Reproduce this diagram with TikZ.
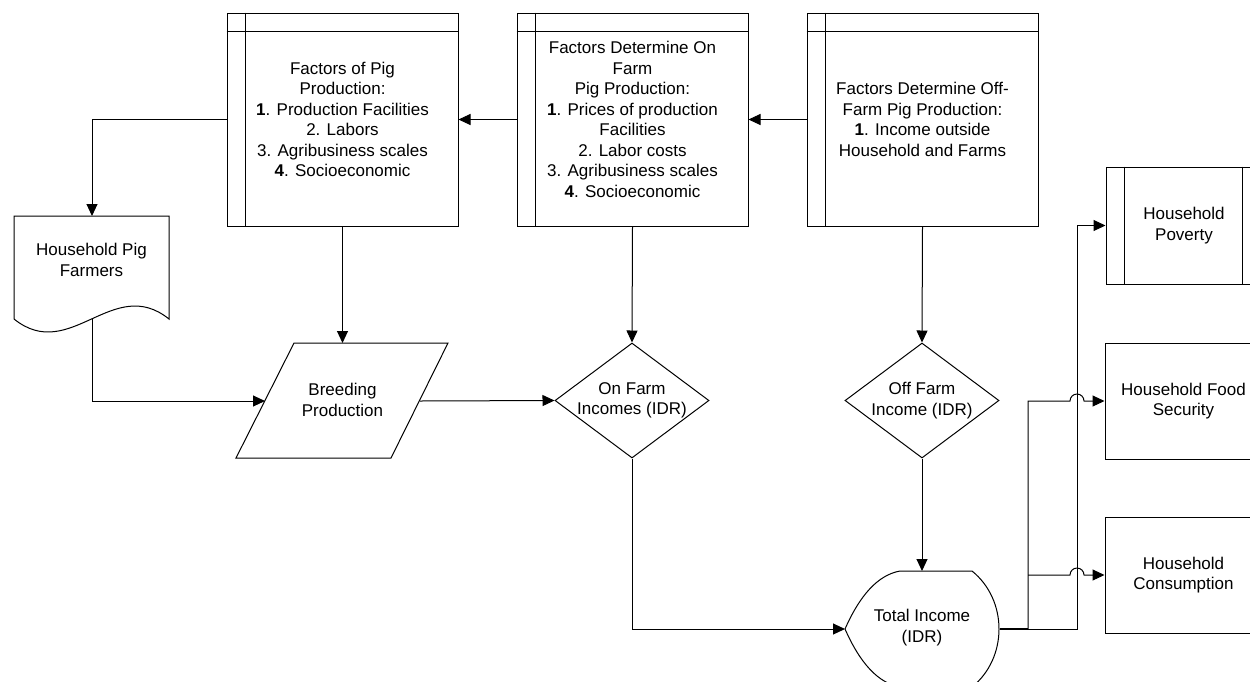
\documentclass[tikz,border=0pt]{standalone}
\usepackage{fontspec}
\setmainfont{Liberation Sans}
\usetikzlibrary{arrows.meta,shapes.geometric}
\begin{document}
\begin{tikzpicture}[x=1pt,y=-1pt,line width=1pt,
  every node/.style={font=\fontsize{17}{20.5}\selectfont,align=center,inner sep=0pt},
  arr/.style={-{Triangle[length=12pt,width=11pt]}},
  fbox/.style={draw,rectangle,minimum width=231pt,minimum height=213pt},
  rbox/.style={draw,rectangle,minimum width=157pt,minimum height=116pt},
  dia/.style={draw,diamond,minimum width=154pt,minimum height=115pt},
  hop/.style={}]
\useasboundingbox (0,0) rectangle (1250,681);
\clip (0,0) rectangle (1250,681);
\fill[white] (0,0) rectangle (1250,681);

% top factor boxes
\node[fbox] (b1) at (342.5,119.5) {Factors of Pig\\Production:\\{\bfseries 1}. Production Facilities\\2. Labors\\3. Agribusiness scales\\{\bfseries 4}. Socioeconomic};
\node[fbox] (b2) at (632.5,119.5) {Factors Determine On\\Farm\\Pig Production:\\{\bfseries 1}. Prices of production\\Facilities\\2. Labor costs\\3. Agribusiness scales\\{\bfseries 4}. Socioeconomic};
\node[fbox] (b3) at (922.5,119.5) {Factors Determine Off-\\Farm Pig Production:\\{\bfseries 1}. Income outside\\Household and Farms};
\foreach \b in {b1,b2,b3}{
  \draw ([yshift=-19pt]\b.north west) -- ([yshift=-19pt]\b.north east);
  \draw ([xshift=19pt]\b.north west) -- ([xshift=19pt]\b.south west);
}

% document shape
\draw (14,216) -- (169,216) -- (169,319) .. controls (113,274) and (70,364) .. (14,319) -- cycle;
\node (doc) at (91.5,260) {Household Pig\\Farmers};
\coordinate (docT) at (92,216);
\coordinate (docB) at (92,319);

% parallelogram
\draw (294,343) -- (448,343) -- (391,458) -- (236,458) -- cycle;
\node (br) at (342.5,400) {Breeding\\Production};
\coordinate (brT) at (342.5,343);
\coordinate (brL) at (265,401);
\coordinate (brR) at (420,401);

% diamonds
\node[dia] (on) at (632,400.5) {};
\node (ont) at (on) {On Farm\\Incomes (IDR)};
\node[dia] (off) at (922,400.5) {};
\node (offt) at (off) {Off Farm\\Income (IDR)};

% total income (display shape)
\draw (900,571) -- (972,571) .. controls (1008,600) and (1008,658) .. (972,687)
  -- (900,687) .. controls (878,683) and (860,663) .. (845,629)
  .. controls (860,595) and (878,575) .. (900,571) -- cycle;
\node (ti) at (922,627.5) {Total Income\\(IDR)};
\coordinate (tiT) at (922,571);
\coordinate (tiL) at (845,629);
\coordinate (tiR) at (1000,629);

% right boxes
\node[rbox,minimum width=156pt,minimum height=117pt] (pov) at (1184,225.5) {Household\\Poverty};
\draw ([xshift=19pt]pov.north west) -- ([xshift=19pt]pov.south west);
\draw ([xshift=-20pt]pov.north east) -- ([xshift=-20pt]pov.south east);
\node[rbox] (food) at (1183.5,401) {Household Food\\Security};
\node[rbox] (cons) at (1183.5,575) {Household\\Consumption};

% connectors
\draw[arr] (b3.west) -- (b2.east);
\draw[arr] (b2.west) -- (b1.east);
\draw[arr] (b1.west) -| (docT);
\draw[arr] (b1.south) -- (brT);
\draw[arr] (b2.south) -- (on.north);
\draw[arr] (b3.south) -- (off.north);
\draw[arr] (docB) |- (brL);
\draw[arr] (brR) -- (on.west);
\draw[arr] (on.south) |- (tiL);
\draw[arr] (off.south) -- (tiT);

\coordinate (j1) at (1028,629);
\coordinate (j2) at (1077,629);
\coordinate (j3) at (1028,575);
\draw[line width=2pt] (tiR) -- (j1);
\draw[arr] (j1) -- (j2) |- (pov.west);
\draw[arr] (j1) |- (1070,401) arc[start angle=180,end angle=0,radius=7pt] -- (food.west);
\draw[arr] (j3) -- (1070,575) arc[start angle=180,end angle=0,radius=7pt] -- (cons.west);
\end{tikzpicture}
\end{document}
